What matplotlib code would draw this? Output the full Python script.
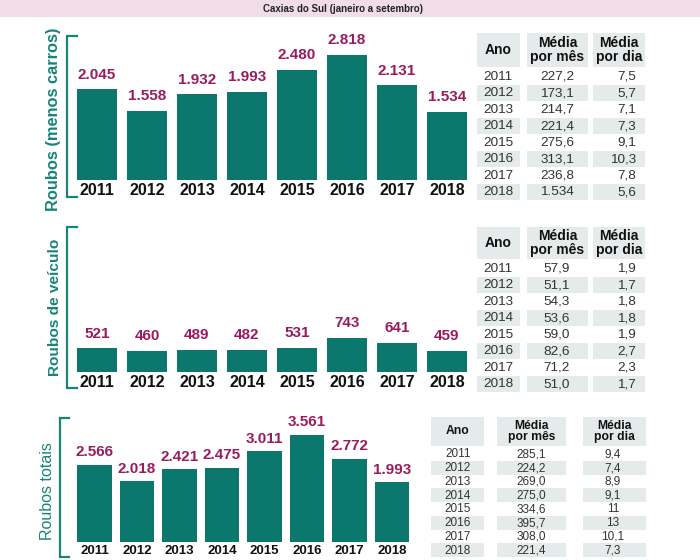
import matplotlib
matplotlib.use("Agg")
import matplotlib.pyplot as plt
from matplotlib.patches import Rectangle

plt.rcParams['font.family'] = ['Liberation Sans', 'DejaVu Sans']

# ---- data ----
years = ['2011', '2012', '2013', '2014', '2015', '2016', '2017', '2018']
roubos_menos_carros = [2045, 1558, 1932, 1993, 2480, 2818, 2131, 1534]
roubos_veiculo = [521, 460, 489, 482, 531, 743, 641, 459]
roubos_totais = [2566, 2018, 2421, 2475, 3011, 3561, 2772, 1993]

media_mes_1 = ['227,2', '173,1', '214,7', '221,4', '275,6', '313,1', '236,8', '1.534']
media_dia_1 = ['7,5', '5,7', '7,1', '7,3', '9,1', '10,3', '7,8', '5,6']
media_mes_2 = ['57,9', '51,1', '54,3', '53,6', '59,0', '82,6', '71,2', '51,0']
media_dia_2 = ['1,9', '1,7', '1,8', '1,8', '1,9', '2,7', '2,3', '1,7']
media_mes_3 = ['285,1', '224,2', '269,0', '275,0', '334,6', '395,7', '308,0', '221,4']
media_dia_3 = ['9,4', '7,4', '8,9', '9,1', '11', '13', '10,1', '7,3']

title = 'Caxias do Sul (janeiro a setembro)'
side_labels = ['Roubos (menos carros)', 'Roubos de veículo', 'Roubos totais']
headers = ['Ano', 'Média\npor mês', 'Média\npor dia']

TEAL = '#0c776d'
BRACKET = '#178577'
MAGENTA = '#9a1c5d'
CELL = '#e5ebeb'
W, H = 700, 560

fig = plt.figure(figsize=(7, 5.6), dpi=100)
bg = fig.add_axes([0, 0, 1, 1])
bg.set_xlim(0, W)
bg.set_ylim(H, 0)
bg.axis('off')

# header band
bg.add_patch(Rectangle((0, 0), W, 17, color='#f1dde7', lw=0))
bg.text(343, 8.5, title, ha='center', va='center', fontsize=7,
        fontweight='bold', color='#222222')


def px_axes(x0, x1, ytop, ybot):
    return fig.add_axes([x0 / W, 1 - ybot / H, (x1 - x0) / W, (ybot - ytop) / H])


def bar_panel(x0, x1, ytop, ybot, ymax, values, width, yr_size, val_size, val_off):
    ax = px_axes(x0, x1, ytop, ybot)
    xs = range(len(values))
    ax.bar(xs, values, width=width, color=TEAL)
    ax.set_xlim(-0.5, len(values) - 0.5)
    ax.set_ylim(0, ymax)
    ax.set_yticks([])
    ax.set_xticks(list(xs))
    ax.set_xticklabels(years, fontsize=yr_size, fontweight='bold', color='#111111')
    ax.tick_params(axis='x', length=0, pad=2.5)
    for s in ax.spines.values():
        s.set_visible(False)
    ax.patch.set_alpha(0)
    for x, v in zip(xs, values):
        ax.annotate(f"{v:,}".replace(',', '.'), (x, v), xytext=(0, val_off),
                    textcoords='offset points', ha='center', va='center',
                    fontsize=val_size, fontweight='bold', color=MAGENTA)
    return ax


bar_panel(72, 472, 30, 180, 3381, roubos_menos_carros, 0.8, 11.5, 11, 10.5)
bar_panel(72, 472, 222, 372, 3282, roubos_veiculo, 0.8, 11.5, 11, 10.5)
bar_panel(73.25, 413.25, 412, 542, 4319, roubos_totais, 0.81, 9.5, 11, 9)


def bracket(x, y0, y1, tick):
    bg.plot([x + tick, x, x, x + tick], [y0, y0, y1, y1], color=BRACKET, lw=1.6,
            solid_joinstyle='miter')


bracket(67, 36, 197, 10)
bracket(67, 227, 388, 10)
bracket(60, 418, 557, 9)

bg.text(54, 119.5, side_labels[0], rotation=90, ha='center', va='center',
        fontsize=11.8, color=BRACKET, fontweight='bold')
bg.text(55, 307.5, side_labels[1], rotation=90, ha='center', va='center',
        fontsize=11.1, color=BRACKET, fontweight='bold')
bg.text(48, 491, side_labels[2], rotation=90, ha='center', va='center',
        fontsize=11.5, color=BRACKET)


def table(cols, text_x, aligns, hy0, hy1, row_h, mes, dia, hsize, dsize):
    for (c0, c1) in cols:
        bg.add_patch(Rectangle((c0, hy0), c1 - c0, hy1 - hy0, color=CELL, lw=0))
    for (c0, c1), h in zip(cols, headers):
        bg.text((c0 + c1) / 2, (hy0 + hy1) / 2, h, ha='center', va='center',
                fontsize=hsize, fontweight='bold', color='#111111', linespacing=0.95)
    for i, row in enumerate(zip(years, mes, dia)):
        y0 = hy1 + 1 + i * row_h
        if i % 2 == 1:
            for (c0, c1) in cols:
                bg.add_patch(Rectangle((c0, y0), c1 - c0, row_h, color=CELL, lw=0))
        for txt, tx, al in zip(row, text_x, aligns):
            bg.text(tx, y0 + row_h / 2 + 0.5, txt, ha=al, va='center',
                    fontsize=dsize, color='#333333')


cols12 = [(477, 520), (527, 588), (593, 645)]
table(cols12, [498, 557, 636], ['center', 'center', 'right'], 33, 67, 16.5,
      media_mes_1, media_dia_1, 10, 9.7)
table(cols12, [498, 557, 636], ['center', 'center', 'right'], 227, 259, 16.5,
      media_mes_2, media_dia_2, 10, 9.7)
cols3 = [(431, 484), (497, 566), (583, 646)]
table(cols3, [458, 531, 613], ['center', 'center', 'center'], 417, 446, 13.75,
      media_mes_3, media_dia_3, 8.7, 8.5)

fig.savefig('out.png', dpi=100)
